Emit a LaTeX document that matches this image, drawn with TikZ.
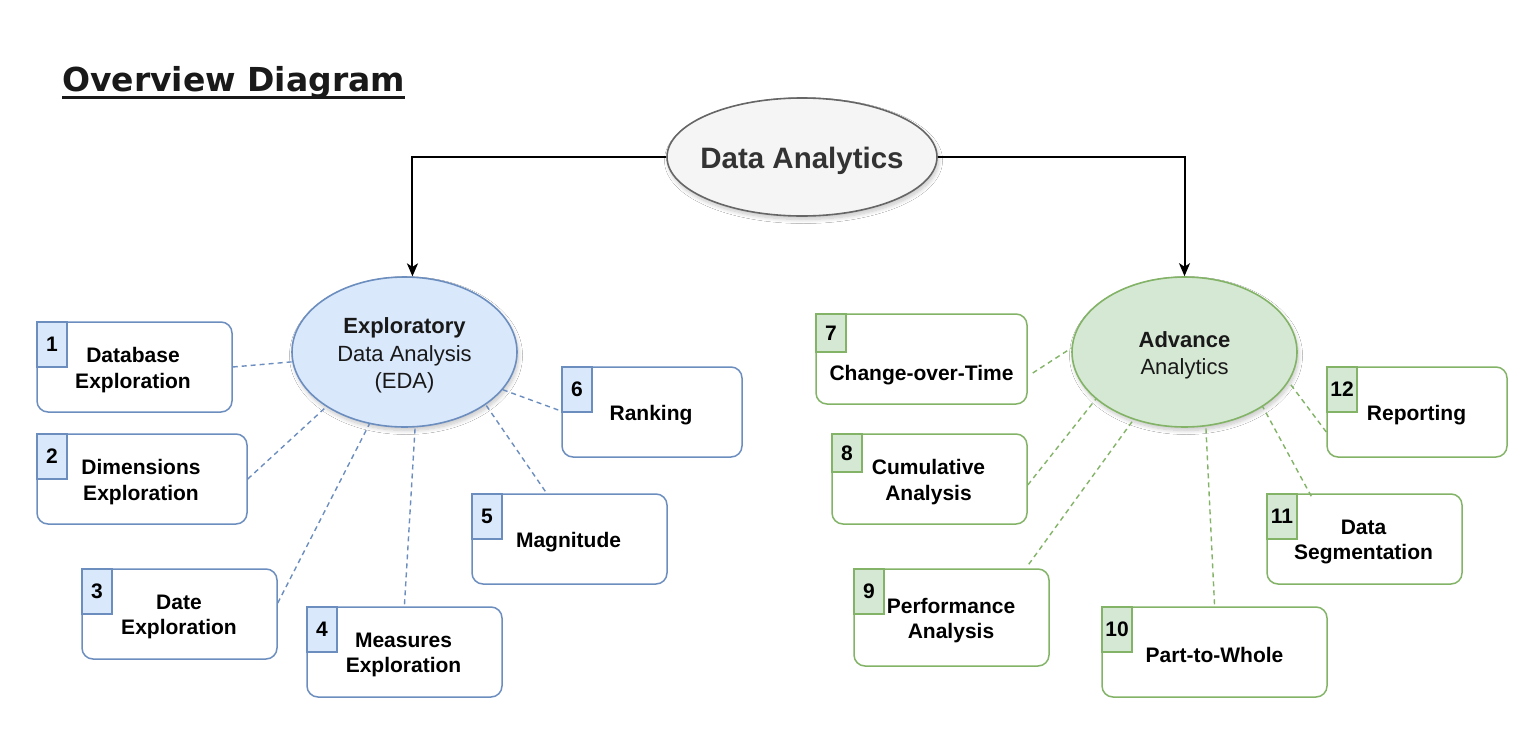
\documentclass[tikz,border=0pt]{standalone}
\usepackage{fontspec}
\setmainfont{Liberation Sans}
\newfontfamily\dejavu{DejaVu Sans}
\usetikzlibrary{shapes.geometric,arrows.meta,shadows.blur}
\definecolor{bluefill}{HTML}{DAE8FC}
\definecolor{bluestroke}{HTML}{6C8EBF}
\definecolor{greenfill}{HTML}{D5E8D4}
\definecolor{greenstroke}{HTML}{82B366}
\definecolor{grayfill}{HTML}{F5F5F5}
\definecolor{graystroke}{HTML}{666666}
\definecolor{darktext}{HTML}{333333}
\tikzset{
  boxtxt/.style={font=\bfseries\fontsize{21}{25.5}\selectfont, align=center, text=black, inner sep=0pt},
  bbox/.style={draw=bluestroke, fill=white, line width=1.5pt, rounded corners=11pt, inner sep=0pt},
  gbox/.style={draw=greenstroke, fill=white, line width=1.5pt, rounded corners=11pt, inner sep=0pt},
  bnum/.style={draw=bluestroke, fill=bluefill, line width=1.5pt, minimum width=30pt, minimum height=45pt, anchor=north west, boxtxt},
  gnum/.style={draw=greenstroke, fill=greenfill, line width=1.5pt, minimum width=30pt, minimum height=45pt, anchor=north west, boxtxt},
  ellshadow/.style={blur shadow={shadow xshift=1.5pt, shadow yshift=-3.5pt, shadow blur steps=10, shadow opacity=22, shadow blur radius=4pt}},
  ell/.style={ellipse, line width=1.6pt, inner sep=0pt, ellshadow},
  elltxt/.style={align=center, inner sep=0pt, font=\fontsize{22}{27.5}\selectfont, text=black!90},
  bline/.style={draw=bluestroke, line width=1.4pt, dash pattern=on 5pt off 4pt},
  gline/.style={draw=greenstroke, line width=1.4pt, dash pattern=on 5pt off 4pt},
  mainarrow/.style={draw=black, line width=2pt, -{Stealth[length=13pt,width=11pt,inset=3.5pt]}},
}
\begin{document}
\begin{tikzpicture}[x=1pt,y=-1pt]
\useasboundingbox (0,0) rectangle (1538,728);
\fill[white] (0,0) rectangle (1538,728);

% title
\node[anchor=base west, inner sep=0pt, text=black!90, font=\dejavu\bfseries\fontsize{33}{36}\selectfont] (title) at (62,91)
  {\setbox0\hbox{Overview Diagram}\rlap{\rule[-7.5pt]{\wd0}{2.5pt}}\box0};

% ellipses
\node[ell, draw=graystroke, fill=grayfill, minimum width=270pt, minimum height=118pt] (DA) at (802,157) {};
\node[text=darktext, inner sep=0pt, font=\bfseries\fontsize{29.5}{34}\selectfont] (tDA) at ([yshift=-4pt]DA.center) {Data Analytics};
\node[ell, draw=bluestroke, fill=bluefill, minimum width=225pt, minimum height=150pt] (EDA) at (404.5,352) {};
\node[elltxt] (tEDA) at ([yshift=-3.5pt]EDA.center) {\textbf{Exploratory}\\Data Analysis\\(EDA)};
\node[ell, draw=greenstroke, fill=greenfill, minimum width=225pt, minimum height=150pt] (AA) at (1184.5,352) {};
\node[elltxt] (tAA) at ([yshift=-3.5pt]AA.center) {\textbf{Advance}\\Analytics};

% main arrows
\draw[mainarrow] (DA.west) -| (EDA.84);
\draw[mainarrow] (DA.east) -| (AA.north);

% blue boxes
\node[bbox, minimum width=195pt, minimum height=90pt] (b1) at (134.5,367) {};
\node[bbox, minimum width=210pt, minimum height=90pt] (b2) at (142,479) {};
\node[bbox, minimum width=195pt, minimum height=90pt] (b3) at (179.5,614) {};
\node[bbox, minimum width=195pt, minimum height=90pt] (b4) at (404.5,652) {};
\node[bbox, minimum width=195pt, minimum height=90pt] (b5) at (569.5,539) {};
\node[bbox, minimum width=180pt, minimum height=90pt] (b6) at (652,412) {};
\node[boxtxt] (t1) at ([xshift=-1.5pt,yshift=-3pt]b1.center) {Database\\Exploration};
\node[boxtxt] (t2) at ([xshift=-1pt,yshift=-3pt]b2.center) {Dimensions\\Exploration};
\node[boxtxt] (t3) at ([xshift=-0.5pt,yshift=-3pt]b3.center) {Date\\Exploration};
\node[boxtxt] (t4) at ([xshift=-1pt,yshift=-3pt]b4.center) {Measures\\Exploration};
\node[boxtxt] (t5) at ([xshift=-1pt,yshift=-3pt]b5.center) {Magnitude};
\node[boxtxt] (t6) at ([xshift=-1pt,yshift=-3pt]b6.center) {Ranking};

\node[bnum] (n1) at (b1.north west) {1};
\node[bnum] (n2) at (b2.north west) {2};
\node[bnum] (n3) at (b3.north west) {3};
\node[bnum] (n4) at (b4.north west) {4};
\node[bnum] (n5) at (b5.north west) {5};
\node[bnum] (n6) at (b6.north west) {6};

% green boxes
\node[gbox, minimum width=211pt, minimum height=90pt] (b7) at (921.5,359) {};
\node[gbox, minimum width=195pt, minimum height=90pt] (b8) at (929.5,479) {};
\node[gbox, minimum width=195pt, minimum height=97pt] (b9) at (951.5,617.5) {};
\node[gbox, minimum width=225pt, minimum height=90pt] (b10) at (1214.5,652) {};
\node[gbox, minimum width=195pt, minimum height=90pt] (b11) at (1364.5,539) {};
\node[gbox, minimum width=180pt, minimum height=90pt] (b12) at (1417,412) {};
\node[boxtxt] (t7) at ([yshift=-16pt]b7.center) {Change-over-Time};
\node[boxtxt] (t8) at ([xshift=-1pt,yshift=-3pt]b8.center) {Cumulative\\Analysis};
\node[boxtxt] (t9) at ([xshift=-0.5pt,yshift=-3pt]b9.center) {Performance\\Analysis};
\node[boxtxt] (t10) at ([yshift=-3pt]b10.center) {Part-to-Whole};
\node[boxtxt] (t11) at ([xshift=-1pt,yshift=-3pt]b11.center) {Data\\Segmentation};
\node[boxtxt] (t12) at ([xshift=-0.5pt,yshift=-3pt]b12.center) {Reporting};

\node[gnum, minimum height=38pt] (n7) at (b7.north west) {7};
\node[gnum, minimum height=38pt] (n8) at (b8.north west) {8};
\node[gnum] (n9) at (b9.north west) {9};
\node[gnum] (n10) at (b10.north west) {10};
\node[gnum] (n11) at (b11.north west) {11};
\node[gnum] (n12) at (b12.north west) {12};

% blue connectors
\draw[bline] (b1.east) -- (EDA.185);
\draw[bline] (b2.east) -- (EDA.215);
\draw[bline] ([yshift=11pt]b3.east) -- (EDA.244);
\draw[bline] ([yshift=2pt]b4.north) -- (EDA.278);
\draw[bline] ([xshift=74pt,yshift=2pt]b5.north west) -- (EDA.327);
\draw[bline] ([xshift=-3pt,yshift=2pt]b6.west) -- (EDA.339);

% green connectors
\draw[gline] ([xshift=5pt,yshift=-14pt]b7.east) -- (AA.178);
\draw[gline] ([yshift=-6pt]b8.east) -- (AA.208);
\draw[gline] ([xshift=-21pt,yshift=4pt]b9.north east) -- (AA.233);
\draw[gline] ([yshift=2pt]b10.north) -- (AA.286);
\draw[gline] ([xshift=45pt,yshift=-3pt]b11.north west) -- (AA.325);
\draw[gline] ([yshift=-20pt]b12.west) -- (AA.344);
\end{tikzpicture}
\end{document}
